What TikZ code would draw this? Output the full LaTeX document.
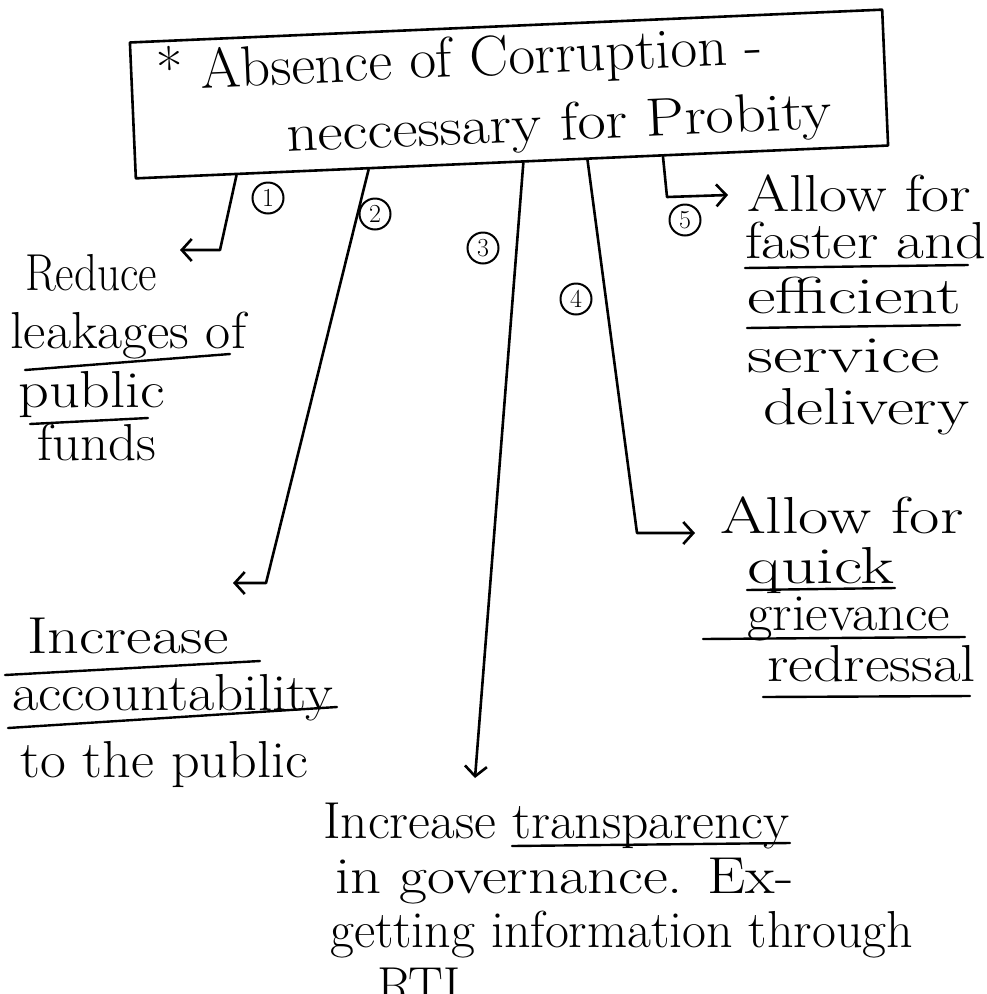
\documentclass[tikz,border=0pt]{standalone}
\usepackage{fontspec}
\usepackage{graphicx}
\usetikzlibrary{arrows.meta,calc}
\newcommand{\hsq}[2]{\scalebox{#1}[1]{#2}}
\begin{document}
\begin{tikzpicture}[x=1pt,y=-1pt,
  pen/.style={line width=2.6pt, line cap=round, line join=round},
  arr/.style={pen, -{Straight Barb[length=10pt,width=22pt]}},
  txt/.style={anchor=base west, inner sep=0pt, font=\fontsize{52}{60}\selectfont},
  boxtxt/.style={anchor=base west, inner sep=0pt, rotate=2.5},
  num/.style={circle, draw, line width=2pt, minimum size=31pt, inner sep=0pt, font=\fontsize{26}{28}\selectfont},
  uline/.style={line width=2.4pt, line cap=round}]
\useasboundingbox (0,0) rectangle (986,994);

% main box
\node[draw, pen, rotate=2.5, minimum width=753pt, minimum height=136pt] (box) at (509,94) {};
\node[boxtxt, font=\fontsize{57}{64}\selectfont] (boxa) at (157,90) {\hsq{1.02}{* Absence of Corruption -}};
\node[boxtxt, font=\fontsize{54}{60}\selectfont] (boxb) at (287,152) {\hsq{1.14}{neccessary for Probity}};

% start points on the box bottom
\coordinate (s1) at ($(box.south west)!0.135!(box.south east)$);
\coordinate (s2) at ($(box.south west)!0.31!(box.south east)$);
\coordinate (s3) at ($(box.south west)!0.515!(box.south east)$);
\coordinate (s4) at ($(box.south west)!0.60!(box.south east)$);
\coordinate (s5) at ($(box.south west)!0.70!(box.south east)$);

% corners and tips
\coordinate (c1) at (220,250); \coordinate (t1) at (180,250);
\coordinate (c2) at (266,583); \coordinate (t2) at (233,583);
\coordinate (t3) at (475,778);
\coordinate (c4) at (637,533); \coordinate (t4) at (695,533);
\coordinate (c5) at (667,197); \coordinate (t5) at (728,195);

\draw[arr] (s1) -- (c1) -- (t1);
\draw[arr] (s2) -- (c2) -- (t2);
\draw[arr] (s3) -- (t3);
\draw[arr] (s4) -- (c4) -- (t4);
\draw[arr] (s5) -- (c5) -- (t5);

% numbers
\node[num] (n1) at (268,198) {1};
\node[num] (n2) at (375,214) {2};
\node[num] (n3) at (483,248) {3};
\node[num] (n4) at (576,299) {4};
\node[num] (n5) at (685,220) {5};

% block 1
\node[txt] (r1a) at (25,290) {\hsq{0.87}{Reduce}};
\node[txt] (r1b) at (10,348) {\hsq{1.05}{leakages of}};
\node[txt] (r1c) at (18,407) {\hsq{1.16}{public}};
\node[txt] (r1d) at (37,460) {\hsq{1.06}{funds}};
\draw[uline] (25,370) -- (230,354);
\draw[uline] (30,424) -- (148,418);

% block 2
\node[txt] (r2a) at (27,653) {\hsq{1.2}{Increase}};
\node[txt] (r2b) at (12,710) {\hsq{1.1}{accountability}};
\node[txt] (r2c) at (20,777) {\hsq{1.08}{to the public}};
\draw[uline] (5,675) -- (260,661);
\draw[uline] (8,728) -- (337,707);

% block 3
\node[txt] (r3a) at (323,838) {\hsq{1.03}{Increase transparency}};
\node[txt] (r3b) at (335,893) {\hsq{1.17}{in governance. Ex-}};
\node[txt] (r3c) at (330,947) {getting information through};
\node[txt] (r3d) at (377,1003) {RTI.};
\draw[uline] (512,846) -- (790,843);

% block 5
\node[txt] (r5a) at (747,211) {\hsq{1.17}{Allow for}};
\node[txt] (r5b) at (745,258) {\hsq{1.16}{faster and}};
\node[txt] (r5c) at (747,313) {\hsq{1.35}{efficient}};
\node[txt] (r5d) at (747,372) {\hsq{1.39}{service}};
\node[txt] (r5e) at (763,424) {\hsq{1.27}{delivery}};
\draw[uline] (745,268) -- (968,265);
\draw[uline] (747,328) -- (960,325);

% block 4
\node[txt] (r4a) at (720,533) {\hsq{1.27}{Allow for}};
\node[txt] (r4b) at (747,583) {\hsq{1.34}{quick}};
\node[txt] (r4c) at (747,630) {\hsq{1.06}{grievance}};
\node[txt] (r4d) at (767,681) {\hsq{1.16}{redressal}};
\draw[uline] (747,590) -- (895,588);
\draw[uline] (703,639) -- (965,637);
\draw[uline] (763,697) -- (970,696);
\end{tikzpicture}
\end{document}
